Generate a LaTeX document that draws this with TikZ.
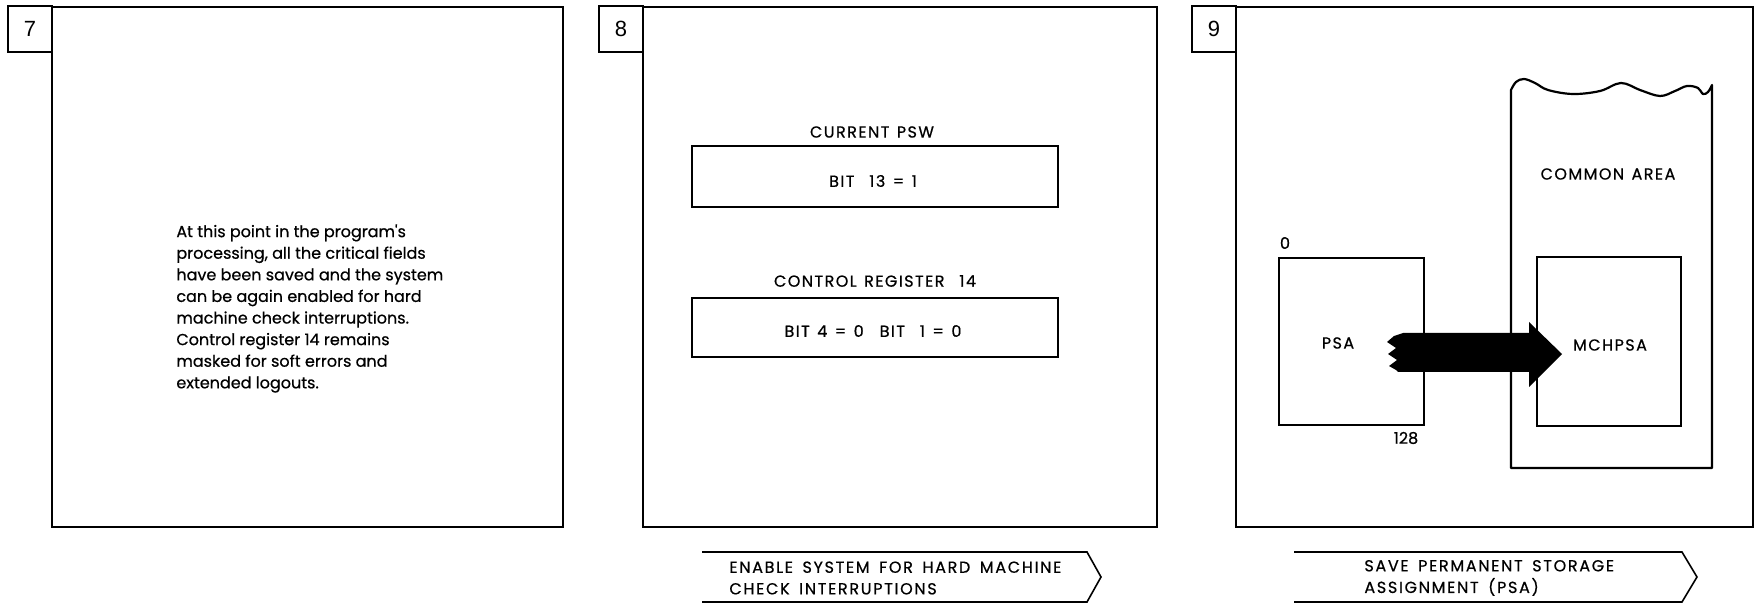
\documentclass[tikz,border=0pt]{standalone}
\usepackage{fontspec}
\setmainfont{Poppins}[FakeBold=0.6]
\newfontfamily\plainpop{Poppins}[FakeBold=0.6]
\newfontfamily\capsfont{Poppins}[FakeBold=0.6,LetterSpace=9,WordSpace=1.3]
\newfontfamily\tagfont{Poppins}[FakeBold=0.6,LetterSpace=10.5,WordSpace=1.6]
\newfontfamily\numfont{Liberation Sans}
\begin{document}
\begin{tikzpicture}[x=0.5pt,y=-0.5pt,
  frame/.style={draw, line width=1.4pt, inner sep=0pt},
  inbox/.style={draw, line width=1.1pt, inner sep=0pt},
  numlbl/.style={frame, fill=white, minimum width=22pt, minimum height=23pt, font=\numfont\fontsize{11pt}{13pt}\selectfont},
  txt/.style={inner sep=0pt, font=\fontsize{8pt}{10.8pt}\selectfont},
  captxt/.style={inner sep=0pt, font=\capsfont\fontsize{8pt}{10.8pt}\selectfont},
  tagtxt/.style={inner sep=0pt, font=\tagfont\fontsize{8pt}{10.8pt}\selectfont},
  tag/.style={line width=0.8pt, line join=miter},
]
\useasboundingbox (0,0) rectangle (1758,604);

% ---------- panel 7 ----------
\node[frame, minimum width=255.5pt, minimum height=260pt] (p7) at (307.5,267) {};
\node[numlbl] (n7) at (30,29) {7};
\node[txt, anchor=north west, align=left] (t7) at (176,224) {At this point in the program{\plainpop'}s\\
processing, all the critical fields\\
have been saved and the system\\
can be again enabled for hard\\
machine check interruptions.\\
Control register 14 remains\\
masked for soft errors and\\
extended logouts.};

% ---------- panel 8 ----------
\node[frame, minimum width=257pt, minimum height=260pt] (p8) at (900,267) {};
\node[numlbl] (n8) at (621,29) {8};
\node[captxt] (h1) at (872,132) {CURRENT PSW};
\node[inbox, minimum width=183pt, minimum height=30.5pt] (b1) at (875,176.5) {};
\node[captxt] (v1) at (873,181) {BIT\ \ 13 = 1};
\node[captxt] (h2) at (875,281) {CONTROL REGISTER\ \ 14};
\node[inbox, minimum width=183pt, minimum height=29.5pt] (b2) at (875,327.5) {};
\node[captxt] (v2) at (873,331) {BIT 4 = 0\quad BIT\ \ 1 = 0};

\draw[tag] (702,552) -- (1087,552) -- (1101,577) -- (1087,602) -- (702,602);
\node[tagtxt, anchor=west, align=left] (l8) at (729,578) {ENABLE SYSTEM FOR HARD MACHINE\\CHECK INTERRUPTIONS};

% ---------- panel 9 ----------
\node[frame, minimum width=258.5pt, minimum height=260pt] (p9) at (1494.5,267) {};
\node[numlbl] (n9) at (1214,29) {9};

% common area with torn top
\draw[line width=1.1pt, line join=round]
  (1511,468) -- plot[smooth, tension=0.6] coordinates {(1511,90) (1516,82) (1524,79) (1535,83) (1548,90) (1573,94) (1600,91) (1621,83) (1640,90) (1660,96) (1675,91) (1687,86) (1698,88) (1703,94) (1708,92) (1712,85)}
  -- (1712,468) -- cycle;
\node[captxt] (ca) at (1608,174) {COMMON AREA};

\node[inbox, minimum width=72pt, minimum height=84.5pt] (mch) at (1609,341.5) {};
\node[captxt] (mcht) at (1610,345) {MCHPSA};

\node[inbox, minimum width=72.5pt, minimum height=83.5pt] (psa) at (1351.5,341.5) {};
\node[captxt] (psat) at (1338,343) {PSA};
\node[txt] (z0) at (1285,243) {0};
\node[txt] (z128) at (1406,438) {128};

% broad arrow with ragged tail
\fill[black] (1403,333) -- (1394,336) -- (1387,342) -- (1396,348) -- (1388,354) -- (1397,360) -- (1389,366) -- (1396,370) -- (1398,372)
  -- (1529,372) -- (1529,387) -- (1562,354) -- (1529,322) -- (1529,333) -- cycle;

\draw[tag] (1294,552) -- (1682,552) -- (1697,577) -- (1682,602) -- (1294,602);
\node[tagtxt, anchor=west, align=left] (l9) at (1364,578) {SAVE PERMANENT STORAGE\\ASSIGNMENT (PSA)};
\end{tikzpicture}
\end{document}
